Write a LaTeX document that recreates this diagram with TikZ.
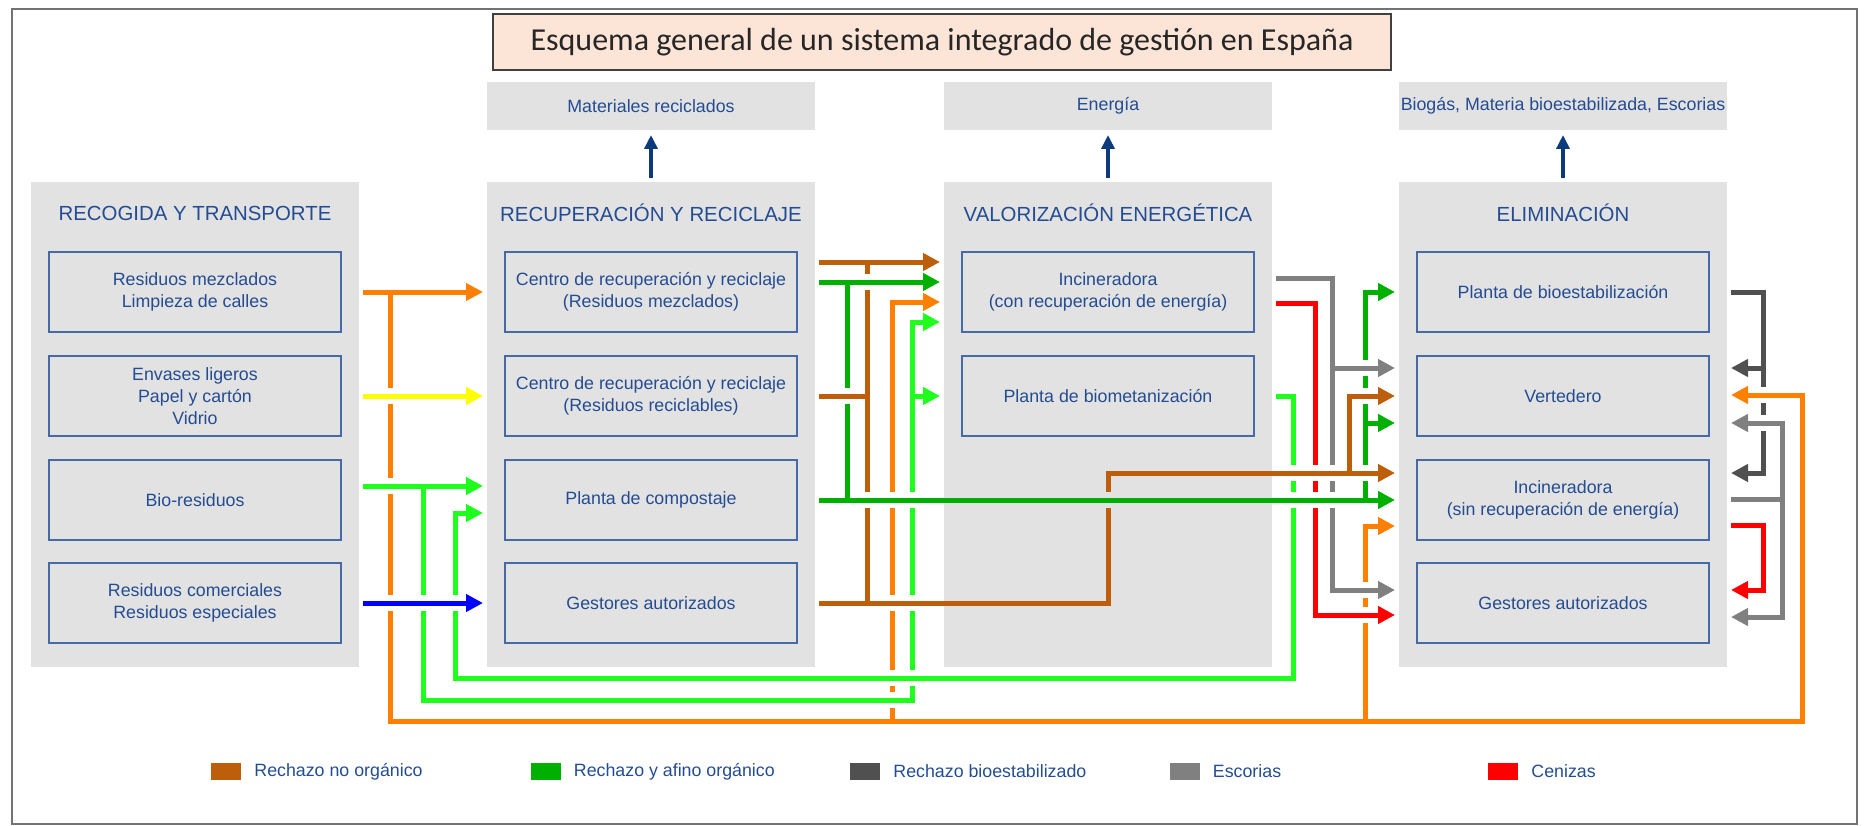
\documentclass[tikz,border=0pt]{standalone}
\usepackage{fontspec}
\setmainfont{Liberation Sans}
\newfontfamily\titlefont{Carlito}
\usetikzlibrary{arrows.meta,positioning}
\definecolor{colfill}{RGB}{226,226,226}
\definecolor{boxline}{RGB}{70,106,166}
\definecolor{txtblue}{RGB}{36,76,146}
\definecolor{navy}{RGB}{12,58,124}
\definecolor{titlefill}{RGB}{252,228,214}
\definecolor{corange}{RGB}{255,128,0}
\definecolor{cbrown}{RGB}{188,94,10}
\definecolor{cgreen}{RGB}{0,176,0}
\definecolor{clime}{RGB}{30,255,30}
\definecolor{cyellow}{RGB}{255,255,0}
\definecolor{cblue}{RGB}{0,0,255}
\definecolor{cdgray}{RGB}{80,80,80}
\definecolor{cgray}{RGB}{128,128,128}
\definecolor{cred}{RGB}{255,0,0}

\begin{document}
\begin{tikzpicture}[x=1pt, y=-1pt,
		column/.style={fill=colfill, minimum width=328pt, minimum height=485pt, inner sep=0pt, outer sep=4pt},
		output/.style={fill=colfill, minimum width=328pt, minimum height=48pt, inner sep=2pt, outer sep=5pt, text=txtblue, font=\fontsize{17.8}{22}\selectfont},
		stage/.style={text=txtblue, font=\fontsize{20.4}{24}\selectfont},
		unit/.style={draw=boxline, line width=2.2pt, fill=colfill, minimum width=292pt, minimum height=80pt, align=center, text=txtblue, font=\fontsize{17.8}{22}\selectfont},
		uparrow/.style={navy, line width=4pt, -{Triangle[length=14pt,width=13pt]}},
		lane/.style={line width=5pt, line cap=rect},
		flow/.style={line width=5pt},
		into/.style={flow, -{Triangle[length=17pt,width=17pt]}},
		key/.style={minimum width=30pt, minimum height=17pt, inner sep=0pt},
		keytext/.style={inner sep=0pt, text=txtblue, font=\fontsize{17.8}{22}\selectfont}]
		\useasboundingbox (0,0) rectangle (1867,826);
		\draw[black!55, line width=2.5pt] (12,9) rectangle (1857,824);
		\node[draw=black!75, line width=2.5pt, fill=titlefill, minimum width=898pt, minimum height=56pt, text=black!85, font=\titlefont\fontsize{32}{36}\selectfont] (title) at (942,42) {Esquema general de un sistema integrado de gestión en España};

		\node[output] (out1) at (651,106) {Materiales reciclados};
		\node[output] (out2) at (1108,106) {Energía};
		\node[output] (out3) at (1563,106) {Biogás, Materia bioestabilizada, Escorias};

		\node[column] (col1) at (195,424.5) {};
		\node[column] (col2) at (651,424.5) {};
		\node[column] (col3) at (1108,424.5) {};
		\node[column] (col4) at (1563,424.5) {};
		\node[stage] (st1) at (195,213) {RECOGIDA Y TRANSPORTE};
		\node[stage] (st2) at (651,213) {RECUPERACIÓN Y RECICLAJE};
		\node[stage] (st3) at (1108,213) {VALORIZACIÓN ENERGÉTICA};
		\node[stage] (st4) at (1563,213) {ELIMINACIÓN};

		\draw[uparrow] (col2.north) -- (out1.south);
		\draw[uparrow] (col3.north) -- (out2.south);
		\draw[uparrow] (col4.north) -- (out3.south);

		\node[unit] (rt1) at (195,292) {Residuos mezclados\\Limpieza de calles};
		\node[unit] (rt2) at (195,396) {Envases ligeros\\Papel y cartón\\Vidrio};
		\node[unit] (rt3) at (195,500) {Bio-residuos};
		\node[unit] (rt4) at (195,603) {Residuos comerciales\\Residuos especiales};
		\node[unit] (rr1) at (651,292) {Centro de recuperación y reciclaje\\(Residuos mezclados)};
		\node[unit] (rr2) at (651,396) {Centro de recuperación y reciclaje\\(Residuos reciclables)};
		\node[unit] (rr3) at (651,500) {Planta de compostaje};
		\node[unit] (rr4) at (651,603) {Gestores autorizados};
		\node[unit] (ve1) at (1108,292) {Incineradora\\(con recuperación de energía)};
		\node[unit] (ve2) at (1108,396) {Planta de biometanización};
		\node[unit] (el1) at (1563,292) {Planta de bioestabilización};
		\node[unit] (el2) at (1563,396) {Vertedero};
		\node[unit] (el3) at (1563,500) {Incineradora\\(sin recuperación de energía)};
		\node[unit] (el4) at (1563,603) {Gestores autorizados};

		\draw[lane, corange] (390,292) -- (390,721);
		\draw[lane, clime] (423,486) -- (423,700);
		\draw[lane, clime] (455,513) -- (455,678);
		\draw[lane, cgreen] (847,282) -- (847,500);
		\draw[lane, cbrown] (867,262) -- (867,603);
		\draw[lane, corange] (892,302) -- (892,721);
		\draw[lane, clime] (912,322) -- (912,700);
		\draw[lane, cbrown] (1108,473) -- (1108,603);
		\draw[lane, clime] (1293,396) -- (1293,678);
		\draw[lane, cred] (1315,303) -- (1315,615);
		\draw[lane, cgray] (1332,278) -- (1332,590);
		\draw[lane, cbrown] (1349,396) -- (1349,473);
		\draw[lane, cgreen] (1365,292) -- (1365,500);
		\draw[lane, corange] (1365,526) -- (1365,721);
		\draw[lane, cdgray] (1763,292) -- (1763,473);
		\draw[lane, cred] (1763,525) -- (1763,590);
		\draw[lane, cgray] (1782,423) -- (1782,617);
		\draw[lane, corange] (1802,395) -- (1802,721);

		\foreach \gx/\gy in {390/396, 390/486, 390/603, 423/603, 455/603, 847/396, 867/282, 867/500, 892/500, 892/603, 892/678, 892/700, 912/500, 912/603, 912/678, 1293/473, 1293/500, 1315/473, 1315/500, 1332/473, 1332/500, 1365/368, 1365/396, 1365/473, 1365/590, 1365/615, 1763/395, 1763/423}
			\fill[white] (\gx-4,\gy-8) rectangle (\gx+4,\gy+8);
		\fill[colfill] (1104,492) rectangle (1112,508);

		\draw[into, corange] (col1.east |- rt1) -- (col2.west |- rt1);
		\draw[into, cyellow] (col1.east |- rt2) -- (col2.west |- rt2);
		\draw[into, clime] (col1.east |- 0,486) -- (col2.west |- 0,486);
		\draw[into, clime] (455,513) -- (col2.west |- 0,513);
		\draw[into, cblue] (col1.east |- rt4) -- (col2.west |- rt4);

		\draw[into, cbrown] (col2.east |- 0,262) -- (col3.west |- 0,262);
		\draw[into, cgreen] (col2.east |- 0,282) -- (col3.west |- 0,282);
		\draw[into, corange] (892,302) -- (col3.west |- 0,302);
		\draw[into, clime] (912,322) -- (col3.west |- 0,322);
		\draw[flow, cbrown] (col2.east |- rr2) -- (867,396);
		\draw[into, clime] (912,396) -- (col3.west |- ve2);
		\draw[into, cgreen] (col2.east |- rr3) -- (col4.west |- el3);
		\draw[flow, cbrown] (col2.east |- rr4) -- (1108,603);
		\draw[into, cbrown] (1108,473) -- (col4.west |- 0,473);
		\draw[flow, clime] (455,678) -- (1293,678);
		\draw[flow, clime] (423,700) -- (912,700);
		\draw[flow, corange] (390,721) -- (1802,721);

		\draw[flow, cgray] (col3.east |- 0,278) -- (1332,278);
		\draw[flow, cred] (col3.east |- 0,303) -- (1315,303);
		\draw[flow, clime] (col3.east |- ve2) -- (1293,396);
		\draw[into, cgray] (1332,368) -- (col4.west |- 0,368);
		\draw[into, cgray] (1332,590) -- (col4.west |- 0,590);
		\draw[into, cred] (1315,615) -- (col4.west |- 0,615);
		\draw[into, cbrown] (1349,396) -- (col4.west |- el2);
		\draw[into, cgreen] (1365,292) -- (col4.west |- el1);
		\draw[into, cgreen] (1365,423) -- (col4.west |- 0,423);
		\draw[into, corange] (1365,526) -- (col4.west |- 0,526);

		\draw[flow, cdgray] (col4.east |- el1) -- (1763,292);
		\draw[into, cdgray] (1763,368) -- (col4.east |- 0,368);
		\draw[into, cdgray] (1763,473) -- (col4.east |- 0,473);
		\draw[flow, cgray] (col4.east |- 0,499) -- (1782,499);
		\draw[into, cgray] (1782,423) -- (col4.east |- 0,423);
		\draw[into, cgray] (1782,617) -- (col4.east |- 0,617);
		\draw[flow, cred] (col4.east |- 0,525) -- (1763,525);
		\draw[into, cred] (1763,590) -- (col4.east |- 0,590);
		\draw[into, corange] (1802,395) -- (col4.east |- 0,395);

		\node[key, fill=cbrown] (lg1) at (226,771.5) {};
		\node[keytext, right=13pt of lg1] (lt1) {Rechazo no orgánico};
		\node[key, fill=cgreen] (lg2) at (545.5,771.5) {};
		\node[keytext, right=13pt of lg2] (lt2) {Rechazo y afino orgánico};
		\node[key, fill=cdgray] (lg3) at (865,771.5) {};
		\node[keytext, right=13pt of lg3] (lt3) {Rechazo bioestabilizado};
		\node[key, fill=cgray] (lg4) at (1184.5,771.5) {};
		\node[keytext, right=13pt of lg4] (lt4) {Escorias};
		\node[key, fill=cred] (lg5) at (1503,771.5) {};
		\node[keytext, right=13pt of lg5] (lt5) {Cenizas};
	\end{tikzpicture}
\end{document}
